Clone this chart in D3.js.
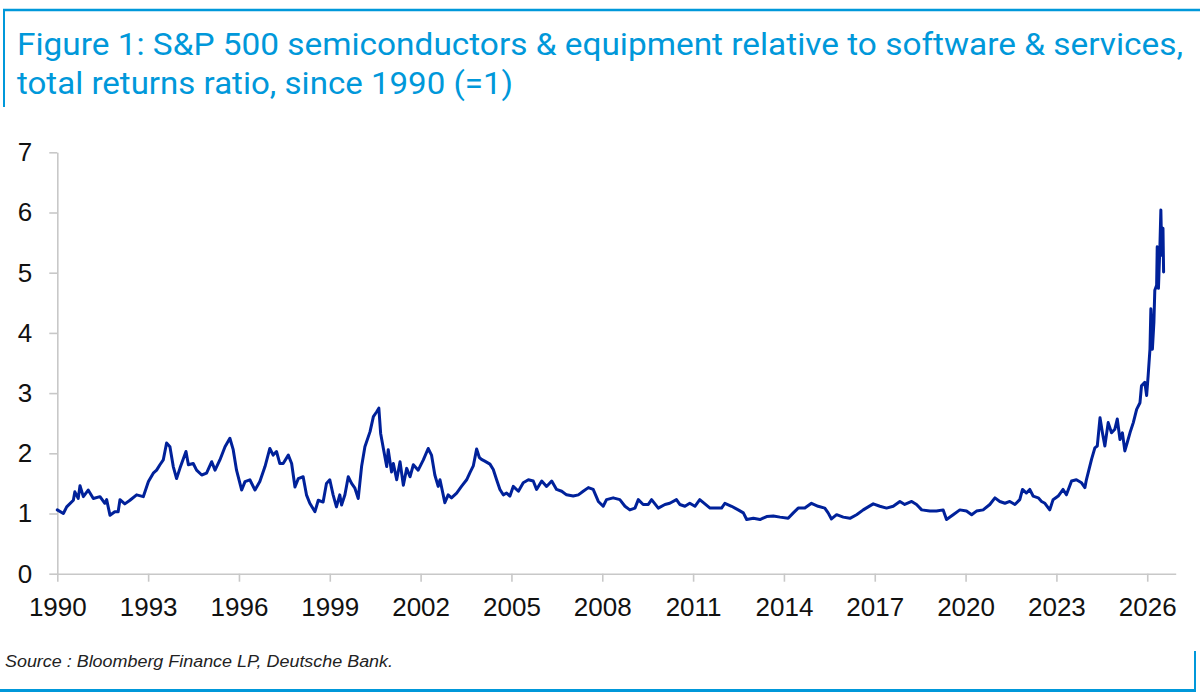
<!DOCTYPE html>
<html><head><meta charset="utf-8">
<script src="https://cdn.jsdelivr.net/npm/d3@7"></script>
<style>html,body{margin:0;padding:0;background:#fff;} svg{display:block;}</style>
</head><body>
<svg id="chart" width="1200" height="699"></svg>
<script>
const titleLines = [
  "Figure 1: S&P 500 semiconductors & equipment relative to software & services,",
  "total returns ratio, since 1990 (=1)"
];
const sourceText = "Source : Bloomberg Finance LP, Deutsche Bank.";
const yTicks = [0, 1, 2, 3, 4, 5, 6, 7];
const xTicks = [1990, 1993, 1996, 1999, 2002, 2005, 2008, 2011, 2014, 2017, 2020, 2023, 2026];

const years = [
  1990.00,1990.20,1990.31,1990.53,1990.58,1990.69,1990.75,1990.86,1991.02,1991.19,1991.41,1991.57,1991.63,1991.74,1991.90,
  1992.01,1992.07,1992.23,1992.40,1992.62,1992.84,1993.01,1993.17,1993.28,1993.39,1993.50,1993.61,1993.72,1993.83,1993.94,
  1994.05,1994.25,1994.33,1994.49,1994.60,1994.77,1994.93,1995.10,1995.21,1995.37,1995.54,1995.70,1995.81,1995.92,
  1996.09,1996.20,1996.36,1996.53,1996.69,1996.86,1997.02,1997.13,1997.24,1997.35,1997.46,1997.63,1997.74,1997.85,1997.96,
  1998.12,1998.23,1998.34,1998.51,1998.62,1998.78,1998.89,1999.00,1999.11,1999.22,1999.33,1999.39,1999.50,1999.61,1999.72,
  1999.83,1999.94,2000.05,2000.16,2000.33,2000.44,2000.55,2000.62,2000.68,2000.77,2000.88,2000.93,2001.04,2001.10,2001.21,
  2001.32,2001.43,2001.54,2001.65,2001.76,2001.92,2002.09,2002.25,2002.36,2002.47,
  2002.58,2002.64,2002.80,2002.91,2003.02,2003.19,2003.35,2003.52,2003.63,2003.74,2003.85,2003.94,2004.01,2004.12,2004.29,
  2004.40,2004.51,2004.62,2004.73,2004.84,2004.95,2005.06,2005.23,2005.39,2005.56,2005.72,2005.83,2006.00,2006.16,2006.33,
  2006.49,2006.66,2006.82,2007.04,2007.21,2007.37,2007.54,2007.70,2007.87,2008.03,2008.14,2008.36,2008.58,2008.75,2008.91,
  2009.08,2009.19,2009.35,2009.52,2009.63,2009.85,2010.07,2010.23,2010.45,2010.56,2010.73,2010.89,2011.06,2011.22,
  2011.56,2011.78,2011.94,2012.05,2012.27,2012.49,2012.66,2012.77,2012.99,2013.21,2013.43,2013.65,2013.87,2014.14,2014.31,
  2014.47,2014.69,2014.91,2015.13,2015.35,2015.46,2015.57,2015.74,2015.96,2016.18,2016.40,2016.62,2016.95,2017.17,2017.39,
  2017.61,2017.83,2017.99,2018.22,2018.38,2018.55,2018.82,2019.04,2019.26,2019.37,2019.59,2019.81,2020.03,2020.20,2020.36,
  2020.58,2020.80,2020.97,2021.13,2021.30,2021.46,2021.63,2021.79,2021.88,2022.01,2022.12,2022.23,2022.40,2022.51,2022.62,
  2022.78,2022.89,2023.06,2023.22,2023.33,2023.50,2023.66,2023.83,2023.94,2023.99,2024.16,2024.27,2024.35,2024.44,2024.52,
  2024.60,2024.71,2024.82,2024.93,2025.01,2025.10,2025.18,2025.26,2025.34,2025.43,2025.54,2025.65,2025.76,2025.81,2025.92,
  2025.98,2026.03,2026.09,2026.12,2026.17,2026.22,2026.25,2026.31,2026.33,2026.37,2026.42,2026.45,2026.48,2026.52,2026.54
];
const values = [
  1.06,1.00,1.11,1.22,1.36,1.25,1.46,1.28,1.39,1.25,1.28,1.17,1.23,0.97,1.03,
  1.03,1.23,1.16,1.22,1.31,1.28,1.53,1.67,1.72,1.81,1.89,2.17,2.11,1.78,1.58,
  1.75,2.03,1.81,1.83,1.72,1.64,1.67,1.86,1.72,1.89,2.11,2.25,2.06,1.72,
  1.39,1.53,1.56,1.39,1.53,1.78,2.08,1.97,2.03,1.83,1.83,1.97,1.83,1.44,1.58,
  1.61,1.31,1.17,1.03,1.22,1.19,1.50,1.56,1.31,1.11,1.31,1.14,1.31,1.61,1.50,
  1.42,1.25,1.78,2.11,2.36,2.61,2.69,2.75,2.33,2.08,1.78,2.06,1.69,1.83,1.56,
  1.86,1.47,1.75,1.61,1.81,1.72,1.89,2.08,1.97,1.64,
  1.45,1.56,1.18,1.31,1.26,1.34,1.45,1.56,1.68,1.79,2.07,1.93,1.90,1.87,1.82,
  1.73,1.56,1.40,1.31,1.34,1.29,1.45,1.37,1.51,1.56,1.54,1.40,1.54,1.45,1.54,
  1.40,1.37,1.31,1.29,1.31,1.37,1.43,1.40,1.20,1.12,1.23,1.26,1.23,1.12,1.06,
  1.09,1.23,1.15,1.15,1.23,1.09,1.15,1.17,1.23,1.15,1.12,1.17,1.12,1.23,
  1.09,1.09,1.09,1.17,1.12,1.06,1.01,0.90,0.92,0.90,0.95,0.96,0.94,0.92,1.01,
  1.09,1.09,1.17,1.12,1.09,1.01,0.91,0.98,0.94,0.92,0.98,1.06,1.16,1.12,1.09,
  1.12,1.20,1.15,1.20,1.15,1.06,1.04,1.04,1.06,0.90,0.98,1.06,1.04,0.98,1.04,
  1.06,1.15,1.26,1.20,1.17,1.20,1.15,1.23,1.40,1.34,1.40,1.29,1.26,1.20,1.17,
  1.06,1.23,1.29,1.40,1.31,1.54,1.56,1.51,1.43,1.56,1.90,2.09,2.12,2.59,2.34,
  2.12,2.51,2.34,2.40,2.57,2.23,2.34,2.04,2.18,2.34,2.51,2.73,2.84,3.12,3.18,
  2.96,3.29,3.73,4.40,3.73,4.18,4.71,4.79,5.43,4.74,5.46,6.04,5.29,5.74,5.01
];

const data = years.map((yr, i) => ({ year: yr, value: values[i] }));

const svg = d3.select("#chart");
const blue = "#0098DA";
const axisGrey = "#c8c8c8";
const lineBlue = "#00219A";

const x = d3.scaleLinear().domain([1990, 2026.94]).range([57.3, 1175.7]);
const y = d3.scaleLinear().domain([0, 7]).range([573.7, 152.3]);

// frame lines
svg.append("line").attr("x1", 3).attr("x2", 1200).attr("y1", 10).attr("y2", 10)
  .attr("stroke", blue).attr("stroke-width", 2.5);
svg.append("line").attr("x1", 4).attr("x2", 4).attr("y1", 9).attr("y2", 107)
  .attr("stroke", blue).attr("stroke-width", 2);
svg.append("line").attr("x1", 0).attr("x2", 1196).attr("y1", 690.5).attr("y2", 690.5)
  .attr("stroke", blue).attr("stroke-width", 3);
svg.append("line").attr("x1", 1195).attr("x2", 1195).attr("y1", 651).attr("y2", 692)
  .attr("stroke", blue).attr("stroke-width", 2);

// title
const titleY = [54.5, 93.5];
const titleLen = [1166, 496];
titleLines.forEach((t, i) => {
  svg.append("text").attr("x", 17).attr("y", titleY[i])
    .attr("font-family", "Roboto, 'Liberation Sans', Arial, sans-serif")
    .attr("font-size", 31).attr("fill", blue)
    .attr("textLength", titleLen[i]).attr("lengthAdjust", "spacingAndGlyphs")
    .text(t);
});

// axes
const yAxis = d3.axisLeft(y).tickValues(yTicks).tickSize(8).tickSizeOuter(0).tickPadding(17)
  .tickFormat(d3.format("d"));
const xAxis = d3.axisBottom(x).tickValues(xTicks).tickSize(8).tickSizeOuter(0).tickPadding(15.5)
  .tickFormat(d3.format("d"));

const gy = svg.append("g").attr("transform", `translate(${x.range()[0]},0)`).call(yAxis);
const gx = svg.append("g").attr("transform", `translate(0,${y(0)})`).call(xAxis);

[gx, gy].forEach(g => {
  g.selectAll("path.domain").attr("stroke", axisGrey).attr("stroke-width", 1.6);
  g.selectAll(".tick line").attr("stroke", axisGrey).attr("stroke-width", 1.6);
  g.selectAll(".tick text").attr("fill", "#111")
    .attr("font-family", "'Liberation Sans', Arial, sans-serif").attr("font-size", 26);
});

// series line
const line = d3.line().x(d => x(d.year)).y(d => y(d.value));
svg.append("path").datum(data).attr("d", line)
  .attr("fill", "none").attr("stroke", lineBlue).attr("stroke-width", 3)
  .attr("stroke-linejoin", "round").attr("stroke-linecap", "round");

// source
svg.append("text").attr("x", 5).attr("y", 667)
  .attr("font-family", "'Liberation Sans', Arial, sans-serif")
  .attr("font-size", 16).attr("font-style", "italic").attr("fill", "#222")
  .attr("textLength", 388).attr("lengthAdjust", "spacingAndGlyphs")
  .text(sourceText);
</script>
</body></html>
